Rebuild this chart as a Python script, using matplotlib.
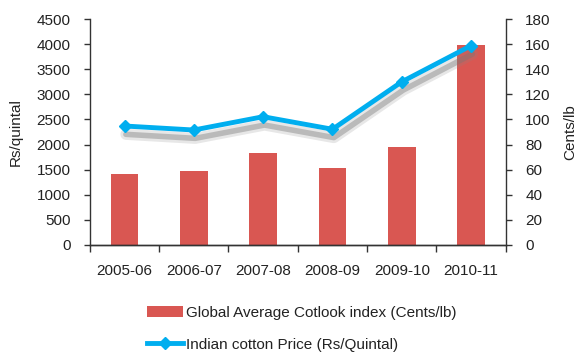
import matplotlib
matplotlib.use("Agg")
import matplotlib.pyplot as plt
import matplotlib.patheffects as pe
import numpy as np

categories = ["2005-06", "2006-07", "2007-08", "2008-09", "2009-10", "2010-11"]
cotlook_cents_lb = [56.5, 58.9, 73.3, 61.3, 78.3, 159.3]
indian_price_rs_qtl = [2370, 2290, 2555, 2305, 3250, 3970]

plt.rcParams['font.family'] = ['Liberation Sans', 'DejaVu Sans']
text_color = '#222222'
spine_color = '#333333'
bar_color = '#d95752'
line_color = '#00aeef'
fs = 11

fig = plt.figure(figsize=(5.76, 3.53), dpi=100)
ax = fig.add_axes([0.156, 0.306, 0.722, 0.640])
ax2 = ax.twinx()

x = np.arange(len(categories))
bars = ax2.bar(x, cotlook_cents_lb, width=0.4, color=bar_color,
               label="Global Average Cotlook index (Cents/lb)")
# soft shadow under the line (line only, no markers)
ax.plot(x, indian_price_rs_qtl, color=line_color, lw=3, solid_capstyle='round',
        path_effects=[pe.SimpleLineShadow(offset=(1, -6), shadow_color='#888888', alpha=0.2, linewidth=8),
                      pe.SimpleLineShadow(offset=(1, -6), shadow_color='#777777', alpha=0.4, linewidth=4)])
line, = ax.plot(x, indian_price_rs_qtl, color=line_color, lw=3.5, marker='D', ms=6.5,
                label="Indian cotton Price (Rs/Quintal)")
ax.set_zorder(ax2.get_zorder() + 1)
ax.patch.set_visible(False)

ax.set_xlim(-0.5, len(categories) - 0.5)
ax.set_ylim(0, 4500)
ax.set_yticks(np.arange(0, 4501, 500))
ax2.set_ylim(0, 180)
ax2.set_yticks(np.arange(0, 181, 20))

ax.set_xticks(x)
ax.set_xticklabels(categories)
ax.set_xticks(np.arange(-0.5, len(categories)), minor=True)
ax.tick_params(axis='x', which='major', length=0, pad=14, labelsize=fs, colors=text_color)
ax.tick_params(axis='x', which='minor', length=5, width=1, color=spine_color)
ax.tick_params(axis='y', length=4, width=1, pad=10, labelsize=fs, colors=text_color, color=spine_color)
ax2.tick_params(axis='y', length=4, width=1, pad=10, labelsize=fs, colors=text_color, color=spine_color)

for a in (ax, ax2):
    a.spines['top'].set_visible(False)
    for s in ('left', 'right', 'bottom'):
        a.spines[s].set_color(spine_color)
        a.spines[s].set_linewidth(1)
ax.spines['right'].set_visible(False)
ax2.spines['left'].set_visible(False)

ax.set_ylabel("Rs/quintal", fontsize=fs, color=text_color, labelpad=10)
ax2.set_ylabel("Cents/lb", fontsize=fs, color=text_color, labelpad=9)

leg = fig.legend(handles=[bars, line], loc='upper left', bbox_to_anchor=(0.255, 0.133),
                 frameon=False, fontsize=fs, handlelength=2.35, handletextpad=0.2,
                 labelspacing=1.15, borderpad=0, borderaxespad=0)
for t in leg.get_texts():
    t.set_color(text_color)

fig.savefig("out.png", dpi=100)
